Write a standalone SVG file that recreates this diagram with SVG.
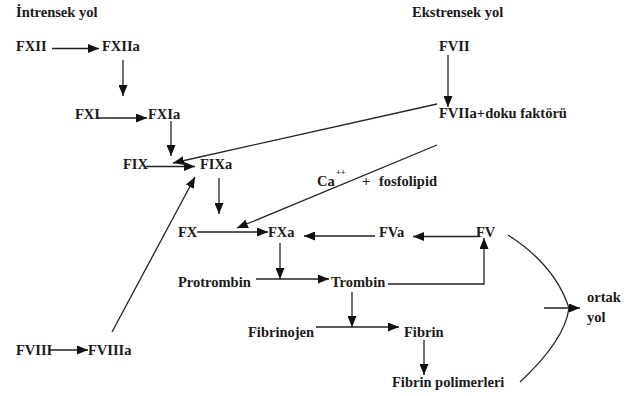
<svg xmlns="http://www.w3.org/2000/svg" width="637" height="396" viewBox="0 0 637 396">
<style>
text{font-family:"Liberation Serif","Times New Roman",Tinos,"DejaVu Serif",serif;font-weight:700;font-size:14.5px;fill:#1a1a1a}
.sup{font-size:8.5px}
.c line,.c polyline,.c path{stroke:#222;stroke-width:1.3;fill:none}
.a{marker-end:url(#ah)}
</style>
<defs>
<marker id="ah" markerUnits="userSpaceOnUse" markerWidth="11" markerHeight="9" refX="11" refY="4.5" orient="auto">
<path d="M0,0 L11,4.5 L0,9 z" fill="#111"/>
</marker>
</defs>
<rect width="637" height="396" fill="#fff"/>
<g id="titles">
<text x="16" y="17">İntrensek yol</text>
<text x="412" y="17">Ekstrensek yol</text>
</g>
<g id="FXII"><text x="16" y="51">FXII</text></g>
<g id="FXIIa"><text x="102" y="51">FXIIa</text></g>
<g id="FXI"><text x="75" y="119">FXI</text></g>
<g id="FXIa"><text x="148" y="119">FXIa</text></g>
<g id="FIX"><text x="123" y="169">FIX</text></g>
<g id="FIXa"><text x="200" y="169">FIXa</text></g>
<g id="FVII"><text x="439" y="51">FVII</text></g>
<g id="FVIIa"><text x="439" y="118">FVIIa+doku faktörü</text></g>
<g id="Ca"><text x="317" y="186">Ca</text><text class="sup" x="336" y="175">++</text><text x="362" y="186">+</text><text x="379" y="186">fosfolipid</text></g>
<g id="FX"><text x="178" y="237">FX</text></g>
<g id="FXa"><text x="268" y="237">FXa</text></g>
<g id="FVa"><text x="379" y="237">FVa</text></g>
<g id="FV"><text x="476" y="237">FV</text></g>
<g id="Protrombin"><text x="178" y="287">Protrombin</text></g>
<g id="Trombin"><text x="331" y="287">Trombin</text></g>
<g id="Fibrinojen"><text x="248" y="337">Fibrinojen</text></g>
<g id="Fibrin"><text x="404" y="337">Fibrin</text></g>
<g id="FibrinPol"><text x="392" y="387">Fibrin polimerleri</text></g>
<g id="FVIII"><text x="16" y="355">FVIII</text></g>
<g id="FVIIIa"><text x="88" y="355">FVIIIa</text></g>
<g id="ortak"><text x="587" y="302">ortak</text><text x="587" y="322">yol</text></g>
<g id="connectors" class="c">
<line class="a" x1="52" y1="48.5" x2="99" y2="48.5"/>
<line class="a" x1="123" y1="60" x2="123" y2="96"/>
<line class="a" x1="448" y1="55" x2="448" y2="107"/>
<line class="a" x1="98" y1="118" x2="147" y2="118"/>
<line class="a" x1="171" y1="121" x2="171" y2="156"/>
<line class="a" x1="146" y1="166.5" x2="195" y2="166.5"/>
<line class="a" x1="437" y1="104" x2="173" y2="163"/>
<line class="a" x1="112" y1="332" x2="195" y2="177"/>
<line class="a" x1="219" y1="178" x2="219" y2="214"/>
<line class="a" x1="197" y1="232" x2="268" y2="232"/>
<line class="a" x1="437" y1="145" x2="237" y2="228"/>
<line class="a" x1="375" y1="236" x2="304" y2="236"/>
<line class="a" x1="480" y1="236.5" x2="413" y2="236.5"/>
<polyline class="a" points="388,284 484,284 484,238"/>
<line class="a" x1="280" y1="243" x2="280" y2="279"/>
<line class="a" x1="256" y1="279" x2="329" y2="279"/>
<line class="a" x1="352" y1="292" x2="352" y2="327"/>
<line class="a" x1="316" y1="327" x2="399" y2="327"/>
<line class="a" x1="424" y1="340" x2="424" y2="375"/>
<line class="a" x1="50" y1="350" x2="88" y2="350"/>
<path d="M508,235 Q555,265 569,308 Q565,340 520,382"/>
<line class="a" x1="544" y1="308" x2="580" y2="308"/>
</g>
</svg>
